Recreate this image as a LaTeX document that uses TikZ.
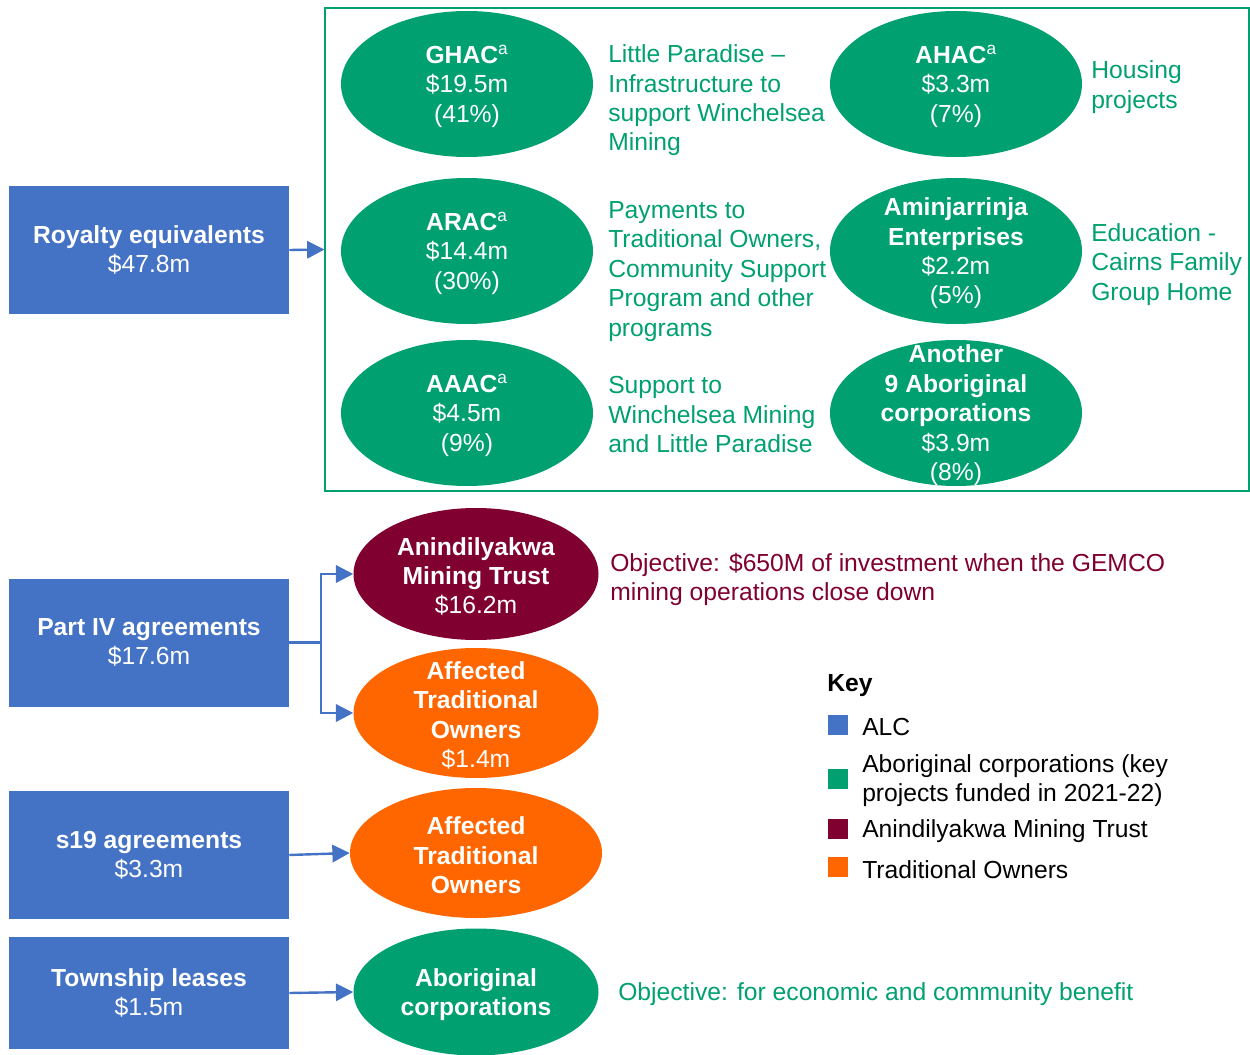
\documentclass[tikz,border=0pt]{standalone}
\usepackage{fontspec}
\setmainfont{Liberation Sans}
\usetikzlibrary{shapes.geometric,arrows.meta}
\definecolor{alcblue}{HTML}{4472C4}
\definecolor{acgreen}{HTML}{00A070}
\definecolor{amtred}{HTML}{800030}
\definecolor{toorange}{HTML}{FF6600}
\newcommand{\supa}{\textsuperscript{\normalfont a}}
\begin{document}
\begin{tikzpicture}[x=0.75pt,y=-0.75pt,
 every node/.style={font=\fontsize{18.5}{22.1}\selectfont, inner sep=0pt},
 every label/.style={font=\fontsize{18.5}{22.1}\selectfont, inner sep=0pt, text=white, align=center, yshift=-1.8pt},
 box/.style={fill=alcblue, minimum width=210pt, minimum height=96pt, text=white, align=center},
 ell/.style={ellipse},
 gell/.style={ell, fill=acgreen, minimum width=189pt, minimum height=109.5pt},
 note/.style={anchor=west, align=left, yshift=-1.8pt},
 keysq/.style={minimum width=15pt, minimum height=15pt},
 arr/.style={alcblue, line width=1.8pt, -{Triangle[length=13pt,width=13pt]}}
]
\useasboundingbox (0,0) rectangle (1250,1055);
% top frame
\node[draw=acgreen, line width=0.8pt, minimum width=693pt, minimum height=362.25pt] (frame) at (787,249.5) {};
% boxes
\node[box] (roy) at (149,250) {\textbf{Royalty equivalents}\\\$47.8m};
\node[box] (part4) at (149,642.5) {\textbf{Part IV agreements}\\\$17.6m};
\node[box] (s19) at (149,855) {\textbf{s19 agreements}\\\$3.3m};
\node[box, minimum height=84pt] (town) at (149,993) {\textbf{Township leases}\\\$1.5m};
% green ellipses in frame
\node[gell, label={center:\textbf{GHAC\supa}\\\$19.5m\\(41\%)}] (ghac) at (467,84) {};
\node[gell, label={center:\textbf{ARAC\supa}\\\$14.4m\\(30\%)}] (arac) at (467,251) {};
\node[gell, label={center:\textbf{AAAC\supa}\\\$4.5m\\(9\%)}] (aaac) at (467,413) {};
\node[gell, label={center:\textbf{AHAC\supa}\\\$3.3m\\(7\%)}] (ahac) at (956,84) {};
\node[gell, label={center:\textbf{Aminjarrinja}\\\textbf{Enterprises}\\\$2.2m\\(5\%)}] (amin) at (956,251) {};
\node[gell, label={center:\textbf{Another}\\\textbf{9 Aboriginal}\\\textbf{corporations}\\\$3.9m\\(8\%)}] (anoth) at (956,413) {};
% notes
\node[note, text=acgreen] (n1) at (608,98) {Little Paradise --\\Infrastructure to\\support Winchelsea\\Mining};
\node[note, text=acgreen] (n2) at (1091,84.5) {Housing\\projects};
\node[note, text=acgreen] (n3) at (608,269) {Payments to\\Traditional Owners,\\Community Support\\Program and other\\programs};
\node[note, text=acgreen] (n4) at (1091,262) {Education -\\Cairns Family\\Group Home};
\node[note, text=acgreen] (n5) at (608,412.5) {Support to\\Winchelsea Mining\\and Little Paradise};
% lower ellipses
\node[ell, fill=amtred, minimum width=183.75pt, minimum height=99pt, label={center:\textbf{Anindilyakwa}\\\textbf{Mining Trust}\\\$16.2m}] (amt) at (476,574) {};
\node[ell, fill=toorange, minimum width=183.75pt, minimum height=97.5pt, label={center:\textbf{Affected}\\\textbf{Traditional}\\\textbf{Owners}\\\$1.4m}] (ato1) at (476,713) {};
\node[ell, fill=toorange, minimum width=189pt, minimum height=97.5pt, label={center:\textbf{Affected}\\\textbf{Traditional}\\\textbf{Owners}}] (ato2) at (476,853) {};
\node[ell, fill=acgreen, minimum width=183.75pt, minimum height=95.25pt, label={center:\textbf{Aboriginal}\\\textbf{corporations}}] (abc) at (476,992) {};
\node[note, text=amtred] (obj1) at (610,577) {Objective: \$650M of investment when the GEMCO\\mining operations close down};
\node[note, text=acgreen] (obj2) at (618,992) {Objective: for economic and community benefit};
% connectors
\draw[arr] (roy.east) -- (frame.west);
\coordinate (j) at (321,642.5);
\draw[alcblue, line width=1.8pt] (part4.east) -- (j);
\draw[arr] (j) |- (amt.west);
\draw[arr] (j) |- (ato1.west);
\draw[arr] (s19.east) -- (ato2.west);
\draw[arr] (town.east) -- (abc.west);
% key
\node[anchor=west, yshift=-1.8pt, font=\fontsize{18.5}{22.1}\selectfont\bfseries] (keyt) at (827,683) {Key};
\node[keysq, fill=alcblue] (k1) at (838,725) {};
\node[note] (k1t) at (862,725) {ALC};
\node[keysq, fill=acgreen] (k2) at (838,779) {};
\node[note] (k2t) at (862,778) {Aboriginal corporations (key\\projects funded in 2021-22)};
\node[keysq, fill=amtred] (k3) at (838,829) {};
\node[note] (k3t) at (862,829) {Anindilyakwa Mining Trust};
\node[keysq, fill=toorange] (k4) at (838,867) {};
\node[note] (k4t) at (862,867) {Traditional Owners};
\end{tikzpicture}
\end{document}
